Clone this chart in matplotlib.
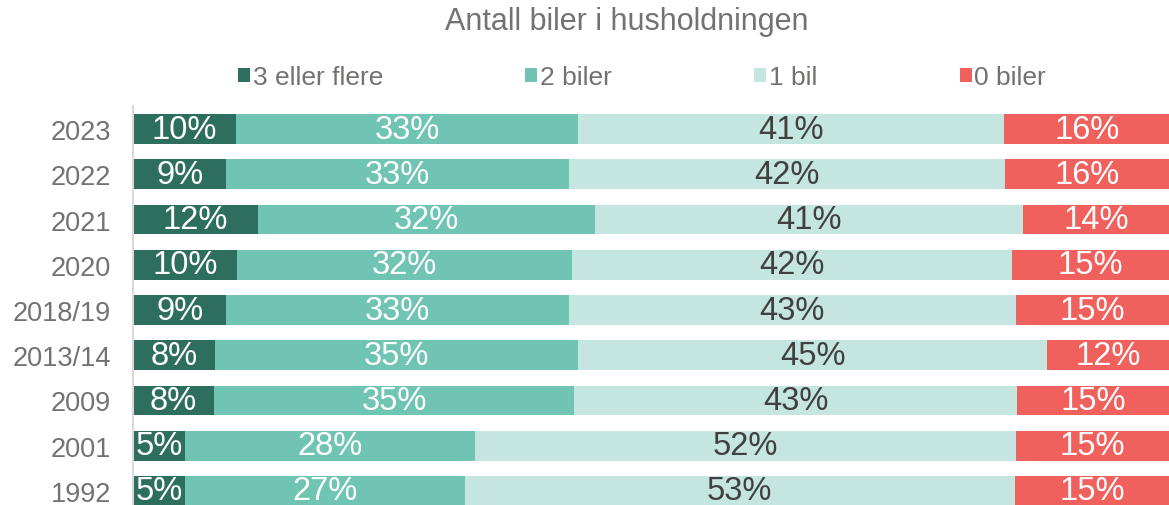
import numpy as np
import matplotlib.pyplot as plt
from matplotlib.patches import Patch

plt.rcParams['font.family'] = ['Liberation Sans', 'DejaVu Sans']

years = ["2023", "2022", "2021", "2020", "2018/19", "2013/14", "2009", "2001", "1992"]
series = ["3 eller flere", "2 biler", "1 bil", "0 biler"]

tre_pluss = [9.9, 9.0, 12.1, 10.0, 9.0, 7.9, 7.8, 5.0, 5.0]
to_biler = [33.1, 33.1, 32.5, 32.4, 33.1, 35.1, 34.8, 28.0, 27.0]
en_bil = [41.1, 42.1, 41.3, 42.4, 43.1, 45.2, 42.7, 52.2, 53.1]
null_biler = [15.9, 15.8, 14.1, 15.2, 14.8, 11.8, 14.7, 14.8, 14.9]

colors = ["#2e6e5f", "#70c4b4", "#c5e6e0", "#f0605d"]
label_colors = ["white", "white", "#404040", "white"]

fig = plt.figure(figsize=(11.69, 5.06), dpi=100)
ax = fig.add_axes([133/1169, -8.6/506, 1 - 133/1169, (514.6 - 107.4)/506])

y = np.arange(len(years))
left = np.zeros(len(years))
for vals, col, lc, name in zip([tre_pluss, to_biler, en_bil, null_biler], colors, label_colors, series):
    vals = np.array(vals)
    ax.barh(y, vals, left=left, height=0.66, color=col, label=name)
    for xi, yi, v in zip(left + vals / 2, y, vals):
        ax.text(xi, yi, f"{round(v):.0f}%", ha="center", va="center",
                color=lc, fontsize=23.5)
    left += vals

ax.set_xlim(0, 100)
ax.set_ylim(len(years) - 0.5, -0.5)
ax.set_yticks(y)
ax.set_yticklabels(years, fontsize=19.5, color="#767171")
ax.tick_params(axis="y", length=0, pad=16)
ax.set_xticks([])
for s in ["top", "right", "bottom"]:
    ax.spines[s].set_visible(False)
ax.spines["left"].set_color("#d9d9d9")
ax.spines["left"].set_linewidth(1.5)

handles = [Patch(facecolor=c) for c in colors]
leg = fig.legend(handles, series, loc="center", bbox_to_anchor=(642/1169, 1 - 78/506),
                 ncol=4, frameon=False, fontsize=19, handlelength=0.45, handleheight=0.45,
                 handletextpad=0.1, columnspacing=5.4)
for t in leg.get_texts():
    t.set_color("#767171")

fig.text(627/1169, 1 - 22/506, "Antall biler i husholdningen", ha="center", va="center",
         fontsize=22, color="#767171")

fig.savefig("out.png", dpi=100)
